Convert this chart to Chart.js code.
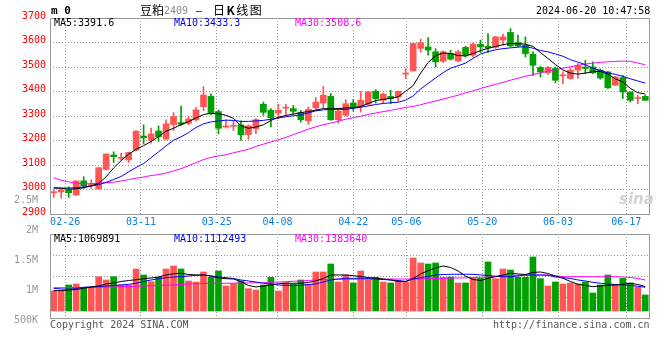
<!DOCTYPE html>
<html>
<head>
<meta charset="utf-8">
<script src="https://cdn.jsdelivr.net/npm/chart.js@4.4.1/dist/chart.umd.min.js"></script>
<style>
body { margin: 0; background: #fff; }
#wrap { position: relative; width: 660px; height: 360px; overflow: hidden; font-family: "DejaVu Sans Mono", monospace; font-size: 10px; }
#wrap canvas { position: absolute; left: 0; }
.t { position: absolute; white-space: pre; line-height: 12px; }
</style>
</head>
<body>
<div id="wrap">
  <canvas id="kline" width="660" height="236" style="top:0"></canvas>
  <div class="t" style="left:51px;top:4px;font:bold 11px 'DejaVu Sans Mono';">m 0</div>
  <div class="t" style="left:140px;top:3px;font:12px 'Noto Sans CJK SC';line-height:14px;">豆粕</div>
  <div class="t" style="left:164px;top:5px;color:#888;">2409</div>
  <div class="t" style="left:196px;top:5px;">–</div>
  <div class="t" style="left:213px;top:3px;font:12px 'Noto Sans CJK SC';line-height:14px;letter-spacing:1.5px;">日<b>K</b>线图</div>
  <div class="t" style="left:536px;top:5px;">2024-06-20 10:47:58</div>
  <div class="t" style="left:54px;top:17px;color:#000;">MA5:3391.6</div>
  <div class="t" style="left:174px;top:17px;color:#0000ff;">MA10:3433.3</div>
  <div class="t" style="left:295px;top:17px;color:#ff00ff;">MA30:3508.6</div>
  <div class="t" style="left:619px;top:190px;font:italic bold 15px 'DejaVu Sans';color:#d2d2d2;">sina</div>
  <canvas id="vol" width="660" height="152" style="top:188px"></canvas>
  <div class="t" style="left:54px;top:233px;color:#000;">MA5:1069891</div>
  <div class="t" style="left:174px;top:233px;color:#0000ff;">MA10:1112493</div>
  <div class="t" style="left:295px;top:233px;color:#ff00ff;">MA30:1383640</div>
  <div class="t" style="left:50px;top:319px;color:#555;">Copyright 2024 SINA.COM</div>
  <div class="t" style="left:493px;top:319px;color:#555;">http://finance.sina.com.cn</div>
</div>
<script>
// trading days shown
const dates = ['02-22','02-23','02-26','02-27','02-28','02-29',
  '03-01','03-04','03-05','03-06','03-07','03-08','03-11','03-12','03-13','03-14','03-15',
  '03-18','03-19','03-20','03-21','03-22','03-25','03-26','03-27','03-28','03-29',
  '04-01','04-02','04-03','04-08','04-09','04-10','04-11','04-12','04-15','04-16','04-17','04-18','04-19',
  '04-22','04-23','04-24','04-25','04-26','04-29','04-30',
  '05-06','05-07','05-08','05-09','05-10','05-13','05-14','05-15','05-16','05-17',
  '05-20','05-21','05-22','05-23','05-24','05-27','05-28','05-29','05-30','05-31',
  '06-03','06-04','06-05','06-06','06-07','06-11','06-12','06-13','06-14','06-17','06-18','06-19','06-20'];
const tickDates = ['02-26','03-11','03-25','04-08','04-22','05-06','05-20','06-03','06-17'];

// daily K
const opens = [2987,2990,2998,2977,3035,3016,3002,3082,3141,3127,
  3121,3161,3218,3202,3239,3206,3265,3273,3270,3284,
  3338,3380,3318,3255,3258,3264,3224,3248,3348,3323,
  3312,3332,3330,3314,3280,3333,3353,3380,3285,3303,
  3353,3340,3348,3401,3364,3380,3378,3471,3484,3576,
  3582,3562,3524,3555,3525,3580,3548,3593,3585,3580,
  3610,3641,3600,3589,3552,3498,3477,3494,3464,3453,
  3487,3500,3500,3487,3480,3426,3457,3398,3371,3380];
const highs = [3001,3000,3011,3036,3052,3039,3090,3146,3154,3148,
  3152,3240,3264,3251,3260,3284,3314,3341,3300,3335,
  3420,3390,3325,3284,3280,3280,3264,3289,3357,3330,
  3348,3348,3343,3323,3337,3375,3421,3392,3330,3367,
  3367,3401,3401,3408,3394,3405,3402,3494,3599,3614,
  3620,3575,3566,3568,3569,3585,3599,3610,3636,3626,
  3634,3657,3630,3623,3562,3503,3503,3500,3480,3496,
  3514,3527,3521,3492,3482,3462,3466,3398,3385,3385];
const lows = [2968,2964,2968,2976,3005,3005,3001,3081,3110,3121,
  3110,3158,3186,3189,3196,3202,3240,3261,3264,3280,
  3322,3305,3227,3250,3240,3200,3205,3228,3303,3255,
  3289,3303,3307,3275,3266,3323,3333,3282,3271,3299,
  3320,3316,3344,3353,3353,3350,3361,3453,3484,3561,
  3548,3500,3518,3528,3521,3541,3541,3559,3558,3576,
  3589,3582,3582,3541,3466,3459,3470,3435,3432,3450,
  3453,3473,3473,3450,3412,3424,3371,3357,3350,3364];
const closes = [2990,2998,2987,3035,3014,3019,3089,3145,3134,3130,
  3151,3238,3211,3227,3216,3268,3298,3266,3288,3325,
  3386,3309,3250,3258,3262,3223,3260,3285,3315,3293,
  3323,3335,3319,3285,3327,3357,3385,3285,3320,3350,
  3334,3364,3398,3371,3389,3371,3401,3474,3596,3599,
  3569,3521,3562,3532,3562,3548,3593,3582,3578,3623,
  3623,3586,3586,3555,3507,3480,3498,3446,3467,3487,
  3505,3494,3476,3455,3415,3460,3398,3364,3375,3364];

// price moving averages as drawn
const ma5 = [3007,3005,3001,3003,3007,3015,3025,3052,3088,3118,
  3144,3164,3179,3196,3216,3238,3250,3265,3277,3292,
  3306,3311,3309,3303,3291,3260,3250,3255,3264,3282,
  3295,3302,3308,3314,3318,3324,3330,3330,3330,3333,
  3334,3339,3351,3363,3368,3372,3378,3401,3424,3475,
  3518,3546,3557,3555,3547,3545,3555,3567,3576,3584,
  3591,3596,3595,3593,3584,3559,3535,3510,3488,3475,
  3471,3475,3481,3482,3471,3452,3439,3413,3395,3390];
const ma10 = [3006,3006,3006,3007,3010,3014,3020,3029,3041,3053,
  3072,3090,3106,3130,3154,3178,3201,3215,3232,3253,
  3268,3276,3280,3283,3282,3278,3278,3280,3282,3287,
  3292,3297,3301,3305,3313,3321,3325,3327,3327,3327,
  3331,3336,3341,3347,3351,3354,3356,3365,3382,3410,
  3433,3455,3477,3495,3505,3516,3535,3553,3563,3570,
  3575,3578,3581,3583,3577,3567,3562,3553,3544,3530,
  3520,3510,3495,3486,3476,3470,3462,3452,3443,3434];
const ma30 = [3048,3038,3031,3026,3023,3024,3026,3028,3030,3035,
  3040,3046,3051,3057,3061,3067,3076,3085,3097,3110,
  3122,3131,3137,3142,3150,3157,3164,3176,3185,3194,
  3203,3213,3224,3235,3246,3256,3264,3271,3279,3287,
  3293,3299,3306,3312,3318,3323,3329,3335,3339,3346,
  3354,3361,3369,3377,3385,3394,3403,3412,3421,3429,
  3437,3446,3454,3462,3469,3476,3483,3489,3495,3501,
  3507,3512,3516,3519,3521,3523,3524,3523,3516,3509];

// volume, in thousands
const volume = [983,983,1083,1100,1044,1044,1222,1167,1222,1083,
  1083,1350,1250,1139,1211,1350,1400,1350,1150,1133,
  1300,1211,1317,1067,1106,1150,1022,1000,1083,1211,
  983,1122,1094,1167,1094,1300,1300,1433,1133,1250,
  1117,1317,1167,1211,1133,1117,1150,1133,1533,1450,
  1433,1450,1211,1217,1117,1117,1194,1194,1467,1189,
  1350,1333,1211,1211,1550,1189,1067,1133,1100,1117,
  1100,1133,950,1083,1250,1083,1194,1117,1050,917];
const volMa5 = [988,990,1000,1008,1028,1050,1067,1100,1117,1142,
  1158,1170,1188,1200,1217,1250,1270,1278,1258,1250,
  1250,1233,1200,1188,1183,1142,1075,1050,1067,1083,
  1105,1112,1112,1112,1125,1150,1192,1250,1250,1250,
  1238,1225,1208,1195,1183,1167,1142,1142,1192,1267,
  1322,1367,1400,1375,1317,1233,1175,1158,1195,1222,
  1250,1278,1267,1258,1292,1300,1275,1233,1195,1142,
  1095,1075,1055,1067,1078,1083,1095,1112,1092,1058];
const volMa10 = [1028,1017,1012,1025,1045,1050,1058,1067,1075,1083,
  1095,1112,1142,1167,1188,1205,1217,1222,1233,1245,
  1250,1233,1217,1205,1192,1167,1150,1133,1112,1100,
  1083,1078,1078,1078,1092,1100,1133,1167,1183,1192,
  1195,1195,1192,1183,1175,1167,1158,1142,1183,1205,
  1228,1250,1258,1262,1262,1262,1262,1250,1242,1228,
  1222,1222,1233,1250,1250,1250,1245,1217,1205,1192,
  1167,1150,1128,1112,1100,1092,1083,1078,1062,1045];
const volMa30 = [1038,1038,1040,1042,1043,1045,1047,1048,1050,1053,
  1057,1062,1067,1070,1075,1080,1083,1092,1100,1105,
  1108,1112,1112,1112,1113,1115,1117,1120,1122,1128,
  1133,1138,1145,1150,1158,1167,1172,1178,1180,1180,
  1180,1180,1180,1180,1180,1182,1183,1183,1183,1183,
  1187,1192,1195,1197,1200,1203,1205,1212,1217,1225,
  1233,1238,1245,1242,1245,1250,1250,1237,1222,1222,
  1222,1222,1222,1222,1222,1222,1217,1208,1192,1167];
const volTicks = [2500, 2000, 1500, 1000, 500];
const volFloor = 650;   // bars start here

const UP = '#ff5555', DOWN = '#00a000', GRID = '#999';
const candleColors = opens.map((o, i) => closes[i] >= o ? UP : DOWN);

Chart.defaults.font.family = '"DejaVu Sans Mono", monospace';
Chart.defaults.font.size = 10;

// panel border
const frame = {
  id: 'frame',
  afterDraw(chart) {
    const { ctx, chartArea: a } = chart;
    ctx.save();
    ctx.strokeStyle = '#999';
    ctx.lineWidth = 1;
    ctx.strokeRect(Math.round(a.left) + 0.5, Math.round(a.top) + 0.5,
      Math.round(a.right - a.left), Math.round(a.bottom - a.top));
    ctx.restore();
  }
};

function maLine(data, color, y) {
  return { type: 'line', data: data, borderColor: color, borderWidth: 1, pointRadius: 0,
    tension: 0, xAxisID: 'x', yAxisID: y, order: 1 };
}

// date axis: Sina spaces the date grid over 79 steps
function dateAxis(showLabels) {
  return {
    type: 'linear', position: 'bottom', min: 0, max: dates.length - 1,
    afterBuildTicks: s => { s.ticks = tickDates.map(d => ({ value: dates.indexOf(d) })); },
    afterFit: s => { s.height = showLabels ? 22 : 0; },
    ticks: { display: showLabels, color: '#0a80e0', padding: 2, maxRotation: 0, autoSkip: false,
      callback: v => dates[v] },
    grid: { color: GRID, drawTicks: false },
    border: { display: false, dash: [1, 2] }
  };
}

new Chart(document.getElementById('kline'), {
  data: {
    labels: dates,
    datasets: [
      { type: 'bar', data: lows.map((l, i) => [l, highs[i]]), backgroundColor: candleColors,
        barThickness: 1, grouped: false, xAxisID: 'x', yAxisID: 'y', order: 3 },
      { type: 'bar', data: opens.map((o, i) => [o, closes[i]]), backgroundColor: candleColors,
        barThickness: 6, minBarLength: 1, grouped: false, xAxisID: 'x', yAxisID: 'y', order: 2 },
      maLine(ma5, '#000000', 'y'),
      maLine(ma10, '#0000ff', 'y'),
      maLine(ma30, '#ff00ff', 'y')
    ]
  },
  options: {
    responsive: false, animation: false, events: [],
    layout: { padding: { top: 18, right: 11, left: 0, bottom: 0 } },
    plugins: { legend: { display: false }, tooltip: { enabled: false } },
    scales: {
      x: { type: 'category', display: false, offset: true },
      xd: dateAxis(true),
      y: {
        min: 2900, max: 3700,
        afterFit: s => { s.width = 50; },
        ticks: { stepSize: 100, color: '#ff0000', padding: 4, labelOffset: -2,
          callback: v => String(v) },
        grid: { color: GRID, drawTicks: false },
        border: { display: false, dash: [1, 2] }
      }
    }
  },
  plugins: [frame]
});

new Chart(document.getElementById('vol'), {
  data: {
    labels: dates,
    datasets: [
      { type: 'bar', data: volume, base: volFloor, backgroundColor: candleColors,
        barThickness: 6, xAxisID: 'x', yAxisID: 'y', order: 2 },
      maLine(volMa5, '#000000', 'y'),
      maLine(volMa10, '#0000ff', 'y'),
      maLine(volMa30, '#ff00ff', 'y')
    ]
  },
  options: {
    responsive: false, animation: false, events: [],
    layout: { padding: { top: 46, right: 11, left: 0, bottom: 22 } },
    plugins: { legend: { display: false }, tooltip: { enabled: false } },
    scales: {
      x: { type: 'category', display: false, offset: true },
      xd: dateAxis(false),
      y: {
        min: 533, max: 1933,
        afterBuildTicks: s => { s.ticks = volTicks.map(v => ({ value: v })); },
        afterFit: s => { s.width = 50; },
        ticks: { color: '#999', padding: 4, autoSkip: false,
          callback: v => v >= 1000 ? (v / 1000) + 'M' : v + 'K' },
        grid: { display: false },
        border: { display: false }
      },
      yg: {
        position: 'right', min: 0, max: 4,
        afterFit: s => { s.width = 0; },
        ticks: { stepSize: 1, display: false },
        grid: { color: GRID, drawTicks: false },
        border: { display: false, dash: [1, 2] }
      }
    }
  },
  plugins: [frame]
});
</script>
</body>
</html>
